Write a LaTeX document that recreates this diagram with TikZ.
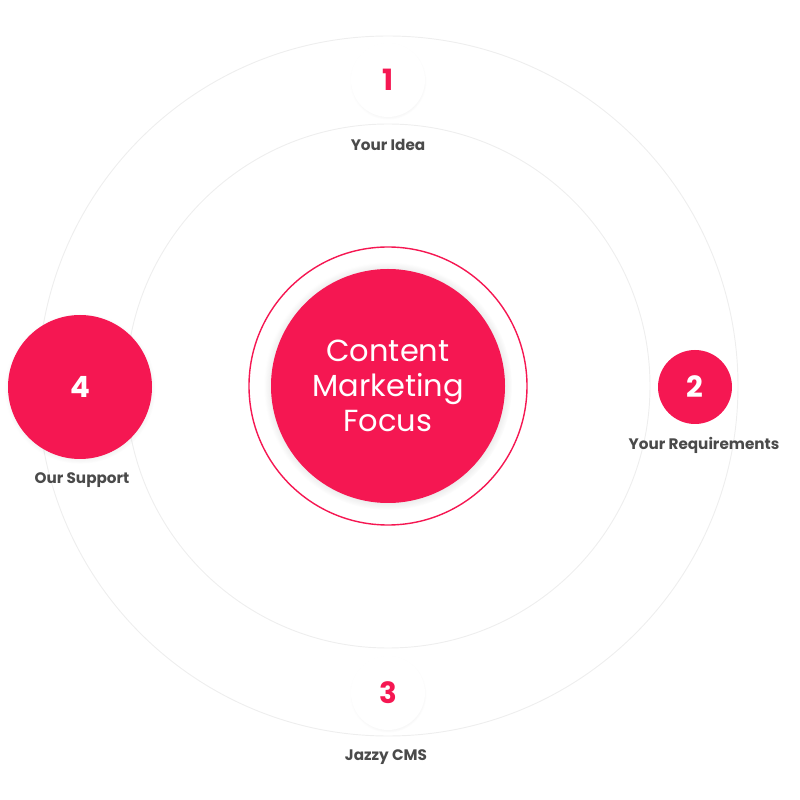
\documentclass[tikz,border=0pt]{standalone}
\usepackage{fontspec}
\setmainfont{Poppins}
\usetikzlibrary{shadows}
\definecolor{focusred}{HTML}{F51752}
\definecolor{ringgray}{HTML}{EEEEEE}
\definecolor{labelgray}{HTML}{4A4A4A}
\tikzset{
  ring/.style={draw=ringgray, line width=0.8pt},
  whitestep/.style={circle, fill=white, minimum size=74*0.03cm, inner sep=0pt,
    font=\fontsize{25}{25}\selectfont\bfseries, text=focusred,
    circular drop shadow={shadow scale=1.04, opacity=0.12, shadow xshift=0pt, shadow yshift=-1pt}},
  redstep/.style={circle, fill=focusred, text=white, inner sep=0pt,
    font=\fontsize{25}{25}\selectfont\bfseries},
  steplabel/.style={text=labelgray, font=\fontsize{13}{13}\selectfont\bfseries}
}
\begin{document}
\begin{tikzpicture}[x=0.03cm, y=0.03cm]
  \useasboundingbox (0,0) rectangle (800,800);
  % rings
  \draw[ring] (388,414) circle (350);
  \draw[ring] (388,414) circle (262);
  % centre
  \node[circle, draw=focusred, line width=1.2pt, minimum size=278*0.03cm] (rim) at (388,414) {};
  \node[circle, fill=focusred, minimum size=234*0.03cm, text=white, align=center,
    font=\fontsize{26}{30}\selectfont,
    circular drop shadow={shadow scale=1.06, opacity=0.35, shadow xshift=0pt, shadow yshift=0pt}]
    (focus) at (388,414) {Content\\Marketing\\Focus};
  % steps
  \node[whitestep] (s1) at (388,720) {1};
  \node[steplabel] (l1) at (388,655) {Your Idea};
  \node[redstep, minimum size=74*0.03cm] (s2) at (695,413) {2};
  \node[steplabel] (l2) at (704,355) {Your Requirements};
  \node[whitestep] (s3) at (388,107) {3};
  \node[steplabel] (l3) at (386,43) {Jazzy CMS};
  \node[redstep, minimum size=144*0.03cm,
    circular drop shadow={shadow scale=1.05, opacity=0.2, shadow xshift=0pt, shadow yshift=-1pt}] (s4) at (80,413) {4};
  \node[steplabel] (l4) at (82,320) {Our Support};
\end{tikzpicture}
\end{document}
